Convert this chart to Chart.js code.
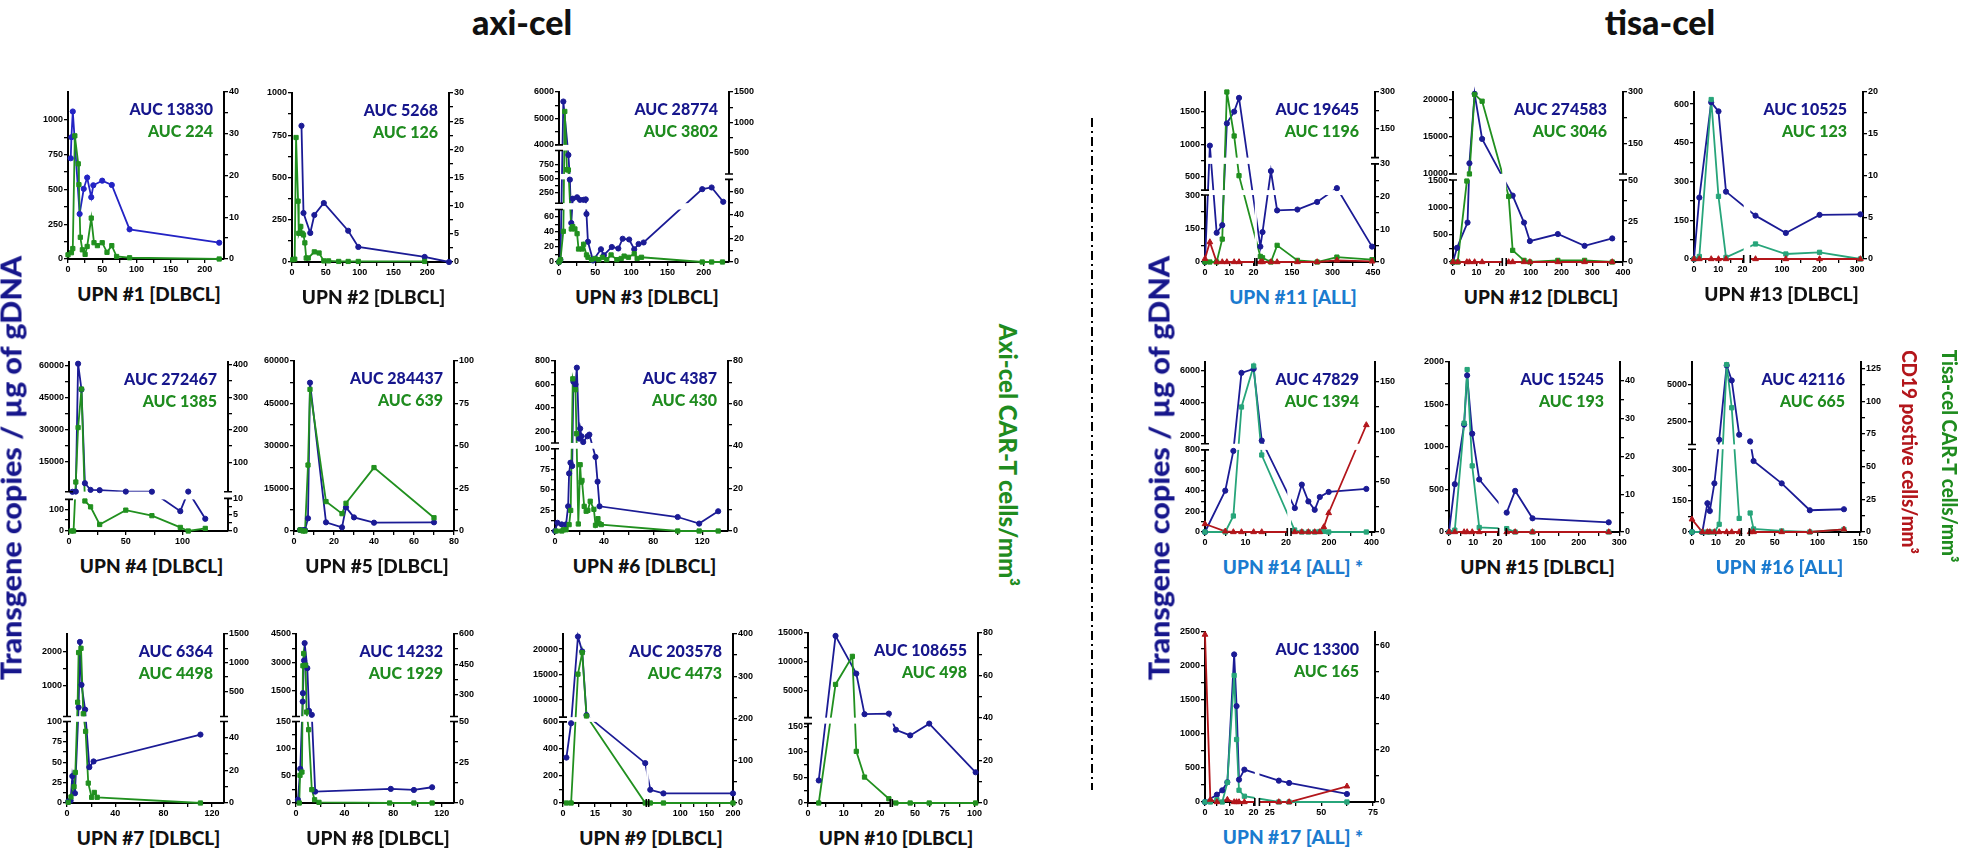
<!DOCTYPE html>
<html>
<head>
<meta charset="utf-8">
<script src="https://cdn.jsdelivr.net/npm/chart.js@4.4.1/dist/chart.umd.min.js"></script>
<style>
body { margin: 0; width: 1961px; height: 853px; background: #fff; position: relative; overflow: hidden; font-family: Lato, sans-serif; }
canvas { position: absolute; }
.t { position: absolute; font-weight: 900; white-space: nowrap; line-height: 1; }
</style>
</head>
<body>
<svg style="position:absolute;left:1088px;top:118px" width="8" height="676">
  <line x1="4" y1="0" x2="4" y2="672" stroke="#000" stroke-width="2" stroke-dasharray="9,4,2,4"/>
</svg>
<script>
// ---- data: days after infusion and values ----
// axi-cel
const upn1TgDays = [4, 5, 7, 17, 23, 28, 34, 37, 50, 64, 90, 221];
const upn1Tg = [724, 875, 1060, 324, 504, 585, 444, 530, 563, 532, 213, 117];
const upn1CarDays = [0, 5, 7, 10, 15, 16, 18, 21, 25, 28, 34, 38, 43, 50, 57, 64, 71, 90, 221];
const upn1Car = [1, 1.5, 2.5, 29.5, 22.8, 17.8, 5.2, 2.2, 1.1, 3, 9.8, 3.9, 3.2, 3.9, 1.6, 3.2, 0.6, 0.3, 0];

const upn2TgDays = [14, 17, 27, 33, 47, 83, 98, 196, 232];
const upn2Tg = [806, 290, 172, 278, 349, 185, 89, 30, 0];
const upn2CarDays = [1, 4, 6, 9, 10, 13, 15, 17, 19, 21, 24, 33, 40, 47, 54, 69, 83, 98, 196];
const upn2Car = [0.4, 0.5, 22.1, 10.8, 5.1, 6.3, 5.1, 4.8, 3.4, 0.7, 0.7, 1.8, 1.6, 0.2, 0.2, 0.1, 0.1, 0.1, 0.1];

const upn3TgDays = [0, 2, 6, 13, 15, 17, 19, 25, 29, 34, 37, 38, 40, 47, 58, 62, 73, 82, 88, 97, 104, 110, 117, 198, 211, 227];
const upn3Tg = [0, 3, 5640, 920, 480, 52, 140, 165, 120, 120, 128, 64, 27, 2, 17, 9, 20, 18, 31, 30, 17, 24, 26, 310, 340, 85];
const upn3CarDays = [0, 2, 6, 8, 11, 13, 17, 19, 22, 25, 27, 32, 34, 38, 40, 45, 50, 55, 60, 66, 72, 80, 86, 90, 96, 104, 108, 114, 198, 211, 226];
const upn3Car = [0, 2, 26, 1180, 220, 215, 28, 30, 28, 24, 11, 11, 15, 6, 4, 2, 3, 2, 4, 2, 6, 2, 3, 5, 4, 7, 3, 4, 0, 0, 0];

const upn4TgDays = [3, 6, 8, 11, 14, 19, 27, 50, 73, 98, 105, 120];
const upn4Tg = [1000, 1100, 60700, 48700, 5000, 1900, 1750, 1100, 1050, 91, 1100, 56];
const upn4CarDays = [2, 4, 6, 8, 11, 14, 19, 27, 50, 73, 98, 105, 120];
const upn4Car = [0, 0, 40, 207, 325, 9.2, 7.4, 2, 6.4, 4.7, 1.1, 0, 0.8];

const upn5TgDays = [3, 4.5, 5.5, 7, 8, 16, 24, 26, 30, 40, 70];
const upn5Tg = [350, 300, 350, 4470, 52350, 3060, 1300, 8350, 4800, 2940, 3060];
const upn5CarDays = [3, 4.5, 5.5, 7, 8, 16, 24, 26, 40, 70];
const upn5Car = [0.6, 0, 0, 38.8, 83.3, 17.3, 10.2, 16.3, 37.3, 7.8];

const upn6TgDays = [0, 2, 5.5, 9, 10.7, 11.5, 12.6, 14, 15, 16.7, 17.8, 19.7, 20.5, 21.6, 23, 26.5, 28, 33, 34.7, 36.3, 100, 117.5, 133];
const upn6Tg = [0, 10, 8, 8, 30, 70, 83, 79, 623, 600, 743, 137, 223, 157, 108, 157, 171, 90, 60, 30, 17, 9, 24];
const upn6CarDays = [1, 5.5, 7, 9, 11.5, 12.8, 14.5, 16.7, 17.5, 19, 20.5, 21.3, 22, 23.8, 25.4, 26.8, 28.7, 31.7, 33, 35, 36, 37.7, 100, 117.5, 133];
const upn6Car = [0, 0, 0.6, 0.6, 3, 9.7, 71.6, 66.5, 45.8, 3.3, 31.2, 23, 23.8, 11.6, 9.3, 9.7, 14, 10.2, 2.7, 5.8, 3.5, 3, 0, 0, 0];

const upn7TgDays = [1, 3, 4.4, 6.6, 9.6, 10.7, 12, 15, 18.5, 22, 110.5];
const upn7Tg = [2, 3, 33, 12, 365, 2270, 1020, 300, 44, 51, 84];
const upn7CarDays = [1, 3.3, 5.8, 6.9, 8.8, 9.6, 11.6, 13.5, 15.4, 17.6, 20.4, 22.6, 25, 110.5];
const upn7Car = [0.4, 3.7, 10, 18.8, 309, 1176, 1250, 107, 44, 12.2, 3.5, 6.5, 3.5, 0];

const upn8TgDays = [1.6, 3.5, 5.5, 5.7, 6.6, 7.1, 9.3, 10.7, 13, 15.8, 78, 97, 112];
const upn8Tg = [6, 63, 936, 1380, 3105, 4020, 2700, 448, 238, 21, 26, 24, 29];
const upn8CarDays = [2.7, 3.3, 4.9, 5.7, 6.3, 7.9, 8.7, 10.4, 13, 15.3, 18.9, 77, 97, 112];
const upn8Car = [0, 17, 19, 442, 503, 445, 212, 45, 8.2, 2, 0.4, 0, 0, 0];

const upn9TgDays = [1.6, 3.8, 7, 9, 11, 38.5, 43, 68, 200];
const upn9Tg = [336, 590, 22500, 19540, 6900, 295, 98, 71, 71];
const upn9CarDays = [1.6, 3.8, 7, 9, 11, 38.5, 43, 68, 200];
const upn9Car = [0, 0, 305, 356, 206, 0, 0, 0, 0];

const upn10TgDays = [3, 7.7, 13.5, 15.8, 22.6, 34, 46, 62, 101];
const upn10Tg = [44, 14500, 8000, 1000, 1100, 143, 132, 155, 60];
const upn10CarDays = [3, 7.7, 12.4, 13.5, 15.8, 22.6, 34, 46, 62, 101];
const upn10Car = [0, 55.8, 69, 24.3, 12.2, 2, 0, 0, 0, 0];

// tisa-cel
const upn11Days = [0, 2, 4.8, 7.1, 9, 12, 14, 33, 41, 72, 95, 170, 243, 316, 446];
const upn11Tg = [0, 980, 131, 165, 1320, 1500, 1710, 69, 134, 592, 231, 235, 269, 330, 69];
const upn11Car = [0, 0, 0, 7, 300, 119, 26.4, 1.7, 1.3, 0, 5.1, 0.5, 0, 1.5, 0.7];
const upn11Cd19 = [1, 6.1, 0, 0, 0, 0, 0, 0, 0, 0, 0, 0, 0, 0.5, 0.2];

const upn12TgDays = [0, 1.7, 6.2, 7, 9.2, 12.4, 41, 78, 97, 188, 275, 365];
const upn12Tg = [0, 259, 722, 11435, 20760, 14700, 1216, 722, 383, 512, 296, 432];
const upn12CarDays = [0, 2, 5.9, 7, 9.2, 12.4, 28, 41, 78, 97, 188, 275, 365];
const upn12Car = [0, 0, 49.4, 60, 293, 273, 40, 7.1, 1, 0, 1, 1, 0];
const upn12Cd19 = [0, 0, 0, 0, 0, 0, 0, 0, 0, 0, 0, 0, 0];

const upn13Days = [0, 2.2, 7.1, 10.1, 13.2, 29, 110, 200, 309];
const upn13Tg = [0, 238, 607, 572, 261, 168, 101, 171, 173];
const upn13Car = [0, 0.3, 19.1, 7.5, 0.2, 1.8, 0.6, 0.8, 0];
const upn13Cd19 = [0, 0, 0, 0, 0, 0, 0, 0, 0];

const upn14TgDays = [0, 5, 7, 9, 12, 14, 38, 71, 102, 132, 156, 198, 376];
const upn14Tg = [0, 403, 790, 5837, 6080, 1694, 233, 462, 298, 216, 341, 390, 420];
const upn14Days = [0, 5, 7, 9, 12, 14, 37, 71, 102, 132, 156, 175, 198, 376];
const upn14Car = [0, 0, 16, 125, 166, 77, 2, 0, 0, 0, 0.5, 0.6, 0, 0];
const upn14Cd19 = [8, 0.7, 0, 0, 0, 0, 0, 0, 0, 0, 0, 5, 19, 107];

const upn15Days = [0, 2.4, 6.25, 7.5, 9.6, 12.5, 21, 42, 85, 274];
const upn15Tg = [0, 563, 1264, 1843, 1157, 618, 228, 484, 161, 114];
const upn15Car = [0, 0.5, 28.8, 43, 17.5, 1.2, 0.9, 0, 0, 0];
const upn15Cd19 = [0, 0, 0, 0, 0, 0, 0, 0, 0, 0];

const upn16Days = [0, 4.3, 6.4, 7.4, 9.3, 11.3, 14.4, 16.5, 19.6, 21, 25, 58, 91, 131];
const upn16Tg = [0, 0, 139, 102, 235, 1317, 6270, 5270, 1650, 1205, 343, 235, 105, 110];
const upn16Car = [0, 0, 0, 0, 0, 5.9, 128, 95, 10.4, 14.5, 2.3, 0.8, 0, 2];
const upn16Cd19 = [9.7, 0, 0, 0, 0, 0, 0, 0, 0, 0, 0, 0, 0, 2];

const upn17TgDays = [0, 4.9, 7.1, 9.2, 12, 13, 14, 16.2, 29.4, 34.4, 62.4];
const upn17Tg = [0, 108, 172, 290, 2170, 1410, 329, 476, 314, 280, 118];
const upn17CarDays = [0, 2.2, 4.9, 7.1, 9.2, 12, 13, 14, 16.2, 29.4, 34.4, 62.4];
const upn17Car = [0, 0, 0.9, 0, 7.5, 48.4, 23.9, 4.5, 2.2, 0, 0, 0];
const upn17Cd19Days = [0, 2.2, 4.9, 9.2, 12, 13, 14, 16.2, 29.4, 34.4, 62.4];
const upn17Cd19 = [64, 0.9, 0, 0.9, 0, 0, 0, 0, 0, 0, 6];

// ---- panels: axis pieces are [from, to, startFraction, endFraction] ----
const panels = [
  { n: 1, L: 68, T: 92, W: 156, H: 167, dx: 'DLBCL', auc: ['13830', '224'], blue: '#2323c4',
    x: [[0, 228, 0, 1]], xt: [0, 50, 100, 150, 200],
    yl: [[0, 1200, 0, 1]], ylt: [0, 250, 500, 750, 1000],
    yr: [[0, 40, 0, 1]], yrt: [0, 10, 20, 30, 40],
    s: [['green', upn1CarDays, upn1Car], ['blue', upn1TgDays, upn1Tg]] },
  { n: 2, L: 292, T: 93, W: 157, H: 169, dx: 'DLBCL', auc: ['5268', '126'],
    x: [[0, 232, 0, 1]], xt: [0, 50, 100, 150, 200],
    yl: [[0, 1000, 0, 1]], ylt: [0, 250, 500, 750, 1000],
    yr: [[0, 30, 0, 1]], yrt: [0, 5, 10, 15, 20, 25, 30],
    s: [['green', upn2CarDays, upn2Car], ['blue', upn2TgDays, upn2Tg]] },
  { n: 3, L: 559, T: 92, W: 170, H: 170, dx: 'DLBCL', auc: ['28774', '3802'],
    x: [[0, 235, 0, 1]], xt: [0, 50, 100, 150, 200],
    yl: [[0, 70, 0, 0.309], [60, 1000, 0.346, 0.656], [4000, 6000, 0.689, 1]], ylt: [0, 20, 40, 60, 250, 500, 750, 4000, 5000, 6000],
    yr: [[0, 70, 0, 0.486], [150, 1500, 0.518, 1]], yrt: [0, 20, 40, 60, 500, 1000, 1500],
    s: [['green', upn3CarDays, upn3Car], ['blue', upn3TgDays, upn3Tg]] },
  { n: 4, L: 69, T: 362, W: 159, H: 169, dx: 'DLBCL', auc: ['272467', '1385'],
    x: [[0, 140, 0, 1]], xt: [0, 50, 100],
    yl: [[0, 145, 0, 0.187], [1000, 61500, 0.232, 1]], ylt: [0, 100, 15000, 30000, 45000, 60000],
    yr: [[0, 10, 0, 0.193], [10, 408, 0.232, 1]], yrt: [0, 5, 10, 100, 200, 300, 400],
    s: [['green', upn4CarDays, upn4Car], ['blue', upn4TgDays, upn4Tg]] },
  { n: 5, L: 294, T: 361, W: 160, H: 170, dx: 'DLBCL', auc: ['284437', '639'],
    x: [[0, 80, 0, 1]], xt: [0, 20, 40, 60, 80],
    yl: [[0, 60000, 0, 1]], ylt: [0, 15000, 30000, 45000, 60000],
    yr: [[0, 100, 0, 1]], yrt: [0, 25, 50, 75, 100],
    s: [['green', upn5CarDays, upn5Car], ['blue', upn5TgDays, upn5Tg]] },
  { n: 6, L: 555, T: 361, W: 173, H: 170, dx: 'DLBCL', auc: ['4387', '430'],
    x: [[0, 141, 0, 1]], xt: [0, 40, 80, 120],
    yl: [[0, 100, 0, 0.484], [100, 800, 0.518, 1]], ylt: [0, 25, 50, 75, 100, 200, 400, 600, 800],
    yr: [[0, 80, 0, 1]], yrt: [0, 20, 40, 60, 80],
    s: [['green', upn6CarDays, upn6Car], ['blue', upn6TgDays, upn6Tg]] },
  { n: 7, L: 67, T: 634, W: 157, H: 169, dx: 'DLBCL', auc: ['6364', '4498'],
    x: [[0, 130, 0, 1]], xt: [0, 40, 80, 120],
    yl: [[0, 100, 0, 0.482], [100, 2500, 0.512, 1]], ylt: [0, 25, 50, 75, 100, 1000, 2000],
    yr: [[0, 50, 0, 0.482], [60, 1500, 0.512, 1]], yrt: [0, 20, 40, 500, 1000, 1500],
    s: [['green', upn7CarDays, upn7Car], ['blue', upn7TgDays, upn7Tg]] },
  { n: 8, L: 296, T: 634, W: 158, H: 169, dx: 'DLBCL', auc: ['14232', '1929'],
    x: [[0, 130, 0, 1]], xt: [0, 40, 80, 120],
    yl: [[0, 150, 0, 0.482], [150, 4500, 0.512, 1]], ylt: [0, 50, 100, 150, 1500, 3000, 4500],
    yr: [[0, 50, 0, 0.482], [190, 600, 0.512, 1]], yrt: [0, 25, 50, 300, 450, 600],
    s: [['green', upn8CarDays, upn8Car], ['blue', upn8TgDays, upn8Tg]] },
  { n: 9, L: 563, T: 634, W: 170, H: 169, dx: 'DLBCL', auc: ['203578', '4473'],
    x: [[0, 39, 0, 0.49], [40, 200, 0.504, 1]], xt: [0, 15, 30, 100, 150, 200],
    yl: [[0, 600, 0, 0.48], [6500, 23000, 0.508, 1]], ylt: [0, 200, 400, 600, 10000, 15000, 20000],
    yr: [[0, 400, 0, 1]], yrt: [0, 100, 200, 300, 400],
    s: [['green', upn9CarDays, upn9Car], ['blue', upn9TgDays, upn9Tg]] },
  { n: 10, L: 808, T: 633, W: 170, H: 170, dx: 'DLBCL', auc: ['108655', '498'],
    x: [[0, 23, 0, 0.484], [31, 103, 0.496, 1]], xt: [0, 10, 20, 50, 75, 100],
    yl: [[0, 155, 0, 0.467], [400, 15000, 0.502, 1]], ylt: [0, 50, 100, 150, 5000, 10000, 15000],
    yr: [[0, 80, 0, 1]], yrt: [0, 20, 40, 60, 80],
    s: [['green', upn10CarDays, upn10Car], ['blue', upn10TgDays, upn10Tg]] },
  { n: 11, L: 1205, T: 92, W: 170, H: 170, dx: 'ALL', auc: ['19645', '1196'], tisa: true,
    x: [[0, 20.5, 0, 0.293], [20, 457, 0.305, 1]], xt: [0, 10, 20, 150, 300, 450],
    yl: [[0, 300, 0, 0.394], [300, 1800, 0.423, 1]], ylt: [0, 150, 300, 500, 1000, 1500],
    yr: [[0, 30, 0, 0.577], [30, 300, 0.614, 1]], yrt: [0, 10, 20, 30, 150, 300],
    s: [['red', upn11Days, upn11Cd19], ['green', upn11Days, upn11Car], ['blue', upn11Days, upn11Tg]] },
  { n: 12, L: 1453, T: 92, W: 170, H: 170, dx: 'DLBCL', auc: ['274583', '3046'], tisa: true,
    x: [[0, 21, 0, 0.29], [20, 400, 0.313, 1]], xt: [0, 10, 20, 100, 200, 300, 400],
    yl: [[0, 1500, 0, 0.482], [10000, 21000, 0.518, 1]], ylt: [0, 500, 1000, 1500, 10000, 15000, 20000],
    yr: [[0, 50, 0, 0.482], [60, 300, 0.518, 1]], yrt: [0, 25, 50, 150, 300],
    s: [['red', upn12CarDays, upn12Cd19], ['green', upn12CarDays, upn12Car], ['blue', upn12TgDays, upn12Tg]] },
  { n: 13, L: 1694, T: 92, W: 169, H: 167, dx: 'DLBCL', auc: ['10525', '123'], tisa: true,
    x: [[0, 20.5, 0, 0.294], [15, 316, 0.333, 1]], xt: [0, 10, 20, 100, 200, 300],
    yl: [[0, 647, 0, 1]], ylt: [0, 150, 300, 450, 600],
    yr: [[0, 20, 0, 1]], yrt: [0, 5, 10, 15, 20],
    s: [['red', upn13Days, upn13Cd19], ['teal', upn13Days, upn13Car], ['blue', upn13Days, upn13Tg]] },
  { n: 14, L: 1205, T: 362, W: 170, H: 170, dx: 'ALL', star: true, auc: ['47829', '1394'], tisa: true,
    x: [[0, 20.3, 0, 0.484], [20, 417, 0.506, 1]], xt: [0, 10, 20, 200, 400],
    yl: [[0, 800, 0, 0.483], [1500, 6500, 0.519, 1]], ylt: [0, 200, 400, 600, 800, 2000, 4000, 6000],
    yr: [[0, 170, 0, 1]], yrt: [0, 50, 100, 150],
    s: [['red', upn14Days, upn14Cd19], ['teal', upn14Days, upn14Car], ['blue', upn14TgDays, upn14Tg]] },
  { n: 15, L: 1449, T: 362, W: 171, H: 170, dx: 'DLBCL', auc: ['15245', '193'], tisa: true,
    x: [[0, 20.5, 0, 0.29], [20, 302, 0.335, 1]], xt: [0, 10, 20, 100, 200, 300],
    yl: [[0, 2000, 0, 1]], ylt: [0, 500, 1000, 1500, 2000],
    yr: [[0, 45, 0, 1]], yrt: [0, 10, 20, 30, 40],
    s: [['red', upn15Days, upn15Cd19], ['teal', upn15Days, upn15Car], ['blue', upn15Days, upn15Tg]] },
  { n: 16, L: 1692, T: 362, W: 169, H: 170, dx: 'ALL', auc: ['42116', '665'], tisa: true,
    x: [[0, 20.5, 0, 0.292], [20, 151, 0.339, 1]], xt: [0, 10, 20, 50, 100, 150],
    yl: [[0, 400, 0, 0.487], [1000, 6500, 0.515, 1]], ylt: [0, 150, 300, 2500, 5000],
    yr: [[0, 130, 0, 1]], yrt: [0, 25, 50, 75, 100, 125],
    s: [['red', upn16Days, upn16Cd19], ['teal', upn16Days, upn16Car], ['blue', upn16Days, upn16Tg]] },
  { n: 17, L: 1205, T: 632, W: 170, H: 170, dx: 'ALL', star: true, auc: ['13300', '165'], tisa: true,
    x: [[0, 20.5, 0, 0.293], [20, 76, 0.32, 1]], xt: [0, 10, 20, 25, 50, 75],
    yl: [[0, 2500, 0, 1]], ylt: [0, 500, 1000, 1500, 2000, 2500],
    yr: [[0, 65, 0, 1]], yrt: [0, 20, 40, 60],
    s: [['red', upn17Cd19Days, upn17Cd19], ['teal', upn17CarDays, upn17Car], ['blue', upn17TgDays, upn17Tg]] }
];

const NAVY = '#16168c';
const GREEN = '#1f8c1f';
const STYLE = {
  blue: { color: '#1b1b95', shape: 'circle', r: 2.6, axis: 'yl' },
  green: { color: '#21901f', shape: 'rect', r: 3, axis: 'yr' },
  teal: { color: '#27a57a', shape: 'rect', r: 3, axis: 'yr' },
  red: { color: '#b3161b', shape: 'triangle', r: 3.3, axis: 'yr' }
};

// ---- a linear scale made of pieces, for the broken axes ----
class BrokenScale extends Chart.LinearScale {
  axisDef() { return this.chart.canvas.axes[this.id]; }
  pieceOf(v) {
    const p = this.axisDef().pieces;
    for (let i = 0; i < p.length; i++) if (v <= p[i][1]) return i;
    return p.length - 1;
  }
  determineDataLimits() {
    const p = this.axisDef().pieces;
    this.min = p[0][0];
    this.max = p[p.length - 1][1];
  }
  buildTicks() {
    const def = this.axisDef();
    const ticks = def.major.map(v => ({ value: v }));
    def.pieces.forEach((pc, k) => {
      const inside = def.major.filter(v => this.pieceOf(v) === k && v >= pc[0]);
      for (let i = 0; i + 1 < inside.length; i++) {
        ticks.push({ value: (inside[i] + inside[i + 1]) / 2, minor: true });
      }
    });
    return ticks.sort((a, b) => a.value - b.value);
  }
  frac(v) {
    const p = this.axisDef().pieces;
    for (const [a, b, f0, f1] of p) {
      if (v <= b) return v < a ? f0 : f0 + (v - a) / (b - a) * (f1 - f0);
    }
    return 1;
  }
  getPixelForValue(v) { return this.getPixelForDecimal(this.frac(v)); }
}
BrokenScale.id = 'broken';
BrokenScale.defaults = Chart.LinearScale.defaults;
Chart.register(BrokenScale);

function gapsOf(chart, id) {
  const s = chart.scales[id], p = chart.canvas.axes[id].pieces, out = [];
  for (let i = 0; i + 1 < p.length; i++) {
    out.push([s.getPixelForDecimal(p[i][3]), s.getPixelForDecimal(p[i + 1][2])]);
  }
  return out;
}

// white gaps through the plot where an axis is broken, and end caps on the axis
const breakPlugin = {
  id: 'breaks',
  beforeDatasetsDraw(chart) { chart.$gapsDone = false; },
  beforeDatasetDraw(chart, args) {
    if (chart.$gapsDone || !chart.data.datasets[args.index].marks) return;
    chart.$gapsDone = true;
    const ctx = chart.ctx, a = chart.chartArea;
    ctx.save();
    ctx.fillStyle = '#fff';
    for (const [p, q] of gapsOf(chart, 'x')) ctx.fillRect(Math.min(p, q), a.top - 8, Math.abs(q - p), a.bottom - a.top + 10);
    for (const [p, q] of gapsOf(chart, 'yl')) ctx.fillRect(a.left - 2, Math.min(p, q), a.right - a.left + 0.5, Math.abs(q - p));
    for (const [p, q] of gapsOf(chart, 'yr')) ctx.fillRect(a.left + 1.5, Math.min(p, q), a.right - a.left + 0.5, Math.abs(q - p));
    ctx.restore();
  },
  afterDraw(chart) {
    const ctx = chart.ctx, a = chart.chartArea;
    ctx.save();
    ctx.strokeStyle = '#000';
    ctx.lineWidth = 1.6;
    ctx.beginPath();
    for (const g of gapsOf(chart, 'x')) for (const p of g) { ctx.moveTo(p, a.bottom - 4); ctx.lineTo(p, a.bottom + 4); }
    for (const g of gapsOf(chart, 'yl')) for (const p of g) { ctx.moveTo(a.left - 4, p); ctx.lineTo(a.left + 4, p); }
    for (const g of gapsOf(chart, 'yr')) for (const p of g) { ctx.moveTo(a.right - 4, p); ctx.lineTo(a.right + 4, p); }
    ctx.stroke();
    ctx.restore();
  }
};

const tickFont = { family: 'Liberation Sans', size: 9, weight: 'bold' };

function axisOptions(position, size) {
  return {
    type: 'broken',
    position: position,
    grid: { drawOnChartArea: false, drawTicks: true, tickLength: 4, color: '#000', lineWidth: 1.3 },
    border: { display: true, color: '#000', width: 2 },
    ticks: {
      autoSkip: false, maxRotation: 0, padding: 1, color: '#000', font: tickFont,
      callback: (v, i, ticks) => (ticks[i].minor ? '' : String(v))
    },
    afterFit: s => { if (position === 'bottom') s.height = size; else s.width = size; }
  };
}

function addText(text, css) {
  const d = document.createElement('div');
  d.className = 't';
  d.textContent = text;
  Object.assign(d.style, css);
  document.body.appendChild(d);
  return d;
}

const LEFTW = 44, RIGHTW = 30, BOTH = 20, TOPPAD = 8;

for (const p of panels) {
  const c = document.createElement('canvas');
  c.width = p.W + LEFTW + RIGHTW;
  c.height = p.H + TOPPAD + BOTH;
  c.style.left = (p.L - LEFTW) + 'px';
  c.style.top = (p.T - TOPPAD) + 'px';
  c.axes = {
    x: { pieces: p.x, major: p.xt },
    yl: { pieces: p.yl, major: p.ylt },
    yr: { pieces: p.yr, major: p.yrt }
  };
  document.body.appendChild(c);

  const sets = [];
  for (const [kind, xs, ys] of p.s) {
    const st = STYLE[kind];
    const color = kind === 'blue' && p.blue ? p.blue : st.color;
    const pts = xs.map((x, i) => ({ x: x, y: ys[i] }));
    sets.push({ data: pts, xAxisID: 'x', yAxisID: st.axis, borderColor: color, borderWidth: 1.8,
      pointRadius: 0, fill: false, tension: 0, clip: false, order: 2 });
    sets.push({ data: pts, xAxisID: 'x', yAxisID: st.axis, showLine: false, pointStyle: st.shape,
      pointRadius: st.r, backgroundColor: color, borderColor: color, borderWidth: 1, clip: false, order: 1, marks: true });
  }

  new Chart(c.getContext('2d'), {
    type: 'line',
    data: { datasets: sets },
    options: {
      responsive: false,
      animation: false,
      events: [],
      layout: { padding: { top: TOPPAD, left: 0, right: 0, bottom: 0 } },
      plugins: { legend: { display: false }, tooltip: { enabled: false } },
      scales: {
        x: axisOptions('bottom', BOTH),
        yl: axisOptions('left', LEFTW),
        yr: axisOptions('right', RIGHTW)
      }
    },
    plugins: [breakPlugin]
  });

  // AUC labels and panel title
  const right = p.L + p.W - (p.tisa ? 16 : 11);
  addText('AUC ' + p.auc[0], { left: right + 'px', top: (p.T + 17) + 'px', transform: 'translate(-100%,-50%)', color: NAVY, fontSize: '16px' });
  addText('AUC ' + p.auc[1], { left: right + 'px', top: (p.T + 39) + 'px', transform: 'translate(-100%,-50%)', color: GREEN, fontSize: '16px' });
  addText('UPN #' + p.n + ' [' + p.dx + ']' + (p.star ? ' *' : ''), {
    left: (p.L + p.W / 2 + 3) + 'px', top: (p.T + p.H + 34) + 'px', transform: 'translate(-50%,-50%)',
    color: p.dx === 'ALL' ? '#1b7bcf' : '#111', fontSize: '19px'
  });
}

// group titles and axis titles
addText('axi-cel', { left: '522px', top: '22px', transform: 'translate(-50%,-50%)', fontSize: '34px', color: '#111' });
addText('tisa-cel', { left: '1660px', top: '22px', transform: 'translate(-50%,-50%)', fontSize: '34px', color: '#111' });
const leftTitle = 'Transgene copies / µg of gDNA';
addText(leftTitle, { left: '10px', top: '468px', transform: 'translate(-50%,-50%) rotate(-90deg) scaleX(1.05)', fontSize: '29px', color: NAVY });
addText(leftTitle, { left: '1158px', top: '468px', transform: 'translate(-50%,-50%) rotate(-90deg) scaleX(1.05)', fontSize: '29px', color: NAVY });
addText('Axi-cel CAR-T cells/mm³', { left: '1008px', top: '455px', transform: 'translate(-50%,-50%) rotate(90deg)', fontSize: '24px', color: GREEN });
addText('CD19 postive cells/mm³', { left: '1910px', top: '452px', transform: 'translate(-50%,-50%) rotate(90deg) scaleX(0.9)', fontSize: '21px', color: '#b3161b' });
addText('Tisa-cel CAR-T cells/mm³', { left: '1950px', top: '456px', transform: 'translate(-50%,-50%) rotate(90deg) scaleX(0.9)', fontSize: '21px', color: GREEN });
</script>
</body>
</html>
